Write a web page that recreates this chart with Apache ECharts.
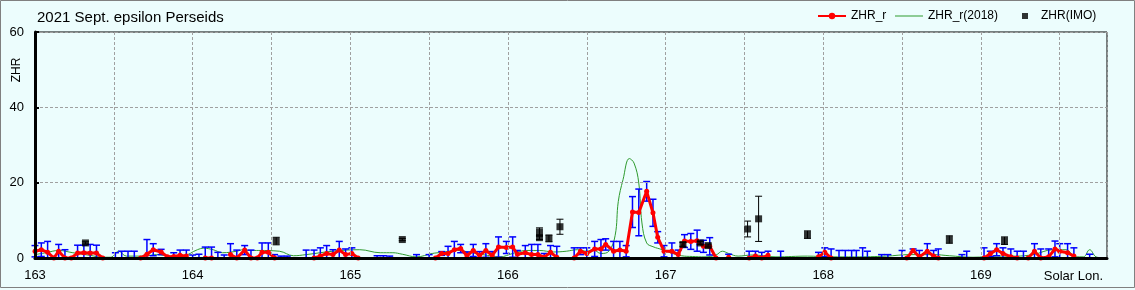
<!DOCTYPE html>
<html><head><meta charset="utf-8">
<script src="https://cdn.jsdelivr.net/npm/echarts@6.0.0/dist/echarts.min.js"></script>
<style>html,body{margin:0;padding:0;background:#ECFDFD}#c{width:1135px;height:290px}</style>
</head><body><div id="c"></div>
<script>
const titleText = '2021 Sept. epsilon Perseids';
const xTickStep = 0.5;

// ZHR_r (hourly), value and error half-width
const zhrLon = [163.00,163.04,163.08,163.12,163.15,163.19,163.23,163.27,163.31,163.35,163.39,163.43,163.47,163.51,163.55,163.59,163.63,163.67,163.71,163.75,163.80,163.84,163.88,163.92,163.96,164.00,164.04,164.08,164.12,164.16,164.20,164.24,164.28,164.33,164.37,164.41,164.44,164.48,164.52,164.56,164.60,164.64,164.68,164.72,164.77,164.81,164.85,164.89,164.93,164.97,165.01,165.05,165.09,165.13,165.17,165.21,165.25,165.29,165.33,165.38,165.42,165.46,165.50,165.54,165.58,165.62,165.66,165.70,165.74,165.78,165.82,165.86,165.90,165.94,165.99,166.03,166.06,166.11,166.15,166.19,166.23,166.27,166.31,166.35,166.38,166.42,166.46,166.50,166.55,166.59,166.62,166.67,166.71,166.75,166.79,166.83,166.88,166.92,166.95,166.99,167.04,167.08,167.12,167.16,167.20,167.24,167.28,167.32,167.36,167.40,167.44,167.48,167.53,167.57,167.61,167.65,167.69,167.73,167.77,167.97,168.01,168.05,168.10,168.14,168.18,168.21,168.25,168.28,168.33,168.37,168.41,168.46,168.50,168.53,168.57,168.61,168.66,168.70,168.73,168.77,168.82,168.88,168.91,168.95,168.98,169.02,169.06,169.10,169.14,169.19,169.23,169.27,169.30,169.34,169.38,169.43,169.47,169.50,169.55,169.59,169.63,169.69];
const zhrVal = [1.8,2.2,1.5,0,1.8,0,0,1.3,1.4,1.3,1.3,0,null,null,null,null,null,0,1.0,2.2,1.6,0.3,0.4,0.7,0.5,null,null,0,0,null,null,0.9,0,2.1,0,0,1.5,1.5,0,null,null,null,null,null,0,0.5,1.2,0.9,2.1,0.9,1.2,0,null,null,null,null,null,null,null,null,null,null,null,0,1.2,1.2,2.2,2.5,0.6,2.0,0.7,2.0,0.7,2.9,2.8,2.9,1.0,1.4,0.9,0.9,0.2,1.5,0.2,null,null,0,1.8,1.2,2.4,2.4,3.6,1.8,2.1,1.8,12.2,12.1,17.7,12.0,5.5,1.8,1.8,0.9,4.5,4.4,4.6,3.1,3.1,0,null,0.2,null,null,0,0.5,0,0.7,null,null,null,0.3,1.5,0,null,null,null,null,null,null,null,null,null,null,null,0,2.0,0.3,1.8,0.5,0,null,null,null,null,null,null,0,1.1,2.2,1.2,0.3,0,null,0,1.8,0,0.3,2.4,1.8,1.4,0.5,null,null];
const zhrErr = [1.5,1.8,2.9,0,1.8,2.2,0,2.1,2.0,2.3,2.1,0,0,1.4,1.8,1.8,1.8,0,3.9,1.6,0.7,0,1.0,1.4,1.6,0.8,1.0,2.9,2.9,1.5,0.8,2.9,2.1,1.2,2.1,0,2.5,2.5,0.9,0.5,0.5,0,0,2.1,2.1,2.2,2.1,1.3,2.3,1.5,1.5,0,0,0,0.6,0.6,0.5,0,0,0,0.9,0,0.9,0,0.5,1.9,2.2,1.1,1.0,1.6,1.0,1.8,1.0,2.7,1.6,2.7,1.0,1.9,2.7,2.7,1.0,1.8,2.9,0,0,2.7,0.9,1.5,2.0,2.5,1.5,2.6,2.3,1.5,4.1,6.2,2.6,3.6,1.5,1.5,2.2,1.2,1.7,2.1,2.8,1.6,2.3,0,0,0.8,0,0,1.8,1.3,1.5,1.1,0,1.8,0,1.2,1.2,2.4,2.0,2.0,2.0,2.0,2.7,1.8,0,0.9,0.9,0,2.0,0,0.4,1.7,2.0,1.5,2.4,0,0,0.9,1.8,0,0,2.7,0.7,1.6,1.5,2.1,1.8,1.8,0,2.0,2.4,2.1,2.1,2.0,2.4,2.2,0,1.0];

// ZHR_r(2018)
const g18Lon = [163.00,163.07,163.15,163.24,163.35,163.43,163.48,163.53,163.58,163.69,163.77,163.86,163.94,164.03,164.07,164.13,164.19,164.28,164.32,164.36,164.42,164.55,164.64,164.72,164.89,165.06,165.19,165.27,165.33,165.42,165.52,165.58,165.68,165.76,165.84,165.95,166.03,166.12,166.20,166.29,166.37,166.44,166.50,166.54,166.59,166.64,166.68,166.70,166.73,166.77,166.80,166.83,166.85,166.88,166.92,166.98,167.03,167.10,167.17,167.25,167.32,167.36,167.40,167.46,167.55,167.70,167.90,168.05,168.20,168.40,168.55,168.70,168.80,168.95,169.10,169.22,169.33,169.46,169.54,169.60,169.65,169.69,169.73,169.76];
const g18Val = [0.9,1.4,2.0,1.4,0.7,0.2,0.2,1.8,0.5,0.5,0.9,0.5,0.6,2.2,2.6,2.2,1.4,1.8,2.2,2.0,2.0,1.8,0.6,0.9,1.8,2.2,1.4,1.4,1.0,0.3,1.2,1.5,2.0,1.5,0.9,0.3,1.2,2.0,2.0,1.6,1.8,2.2,1.8,2.2,1.2,1.8,6.0,15.0,20.8,26.4,25.2,19.9,9.3,4.0,3.0,2.2,1.4,0.6,0.4,0.3,0.8,1.8,1.2,0.5,0.8,0.3,0.5,0.3,0.3,0.5,0.9,0.9,0.6,0.2,0.5,0.5,0.9,2.2,2.2,0.3,0.3,2.2,0.3,0.1];

// ZHR(IMO)
const imoLon = [163.32,164.53,165.33,166.20,166.20,166.26,166.33,167.11,167.22,167.27,167.52,167.59,167.90,168.80,169.15];
const imoVal = [4.0,4.5,4.9,6.9,5.4,5.2,8.3,3.6,4.0,3.3,7.7,10.4,6.2,4.9,4.6];
const imoErr = [0.3,1.0,0.3,1.1,0.5,0.9,2.0,0.5,0.4,0.4,2.1,6.0,1.0,1.0,1.0];

const FONT = 'Liberation Sans, Arial, sans-serif';

const redData = zhrLon.map((l, i) => [l, zhrVal[i]]);
const blueData = [];
zhrLon.forEach((l, i) => {
  const v = zhrVal[i] == null ? 0 : zhrVal[i];
  const e = zhrErr[i];
  if (e > 0) blueData.push([l, Math.max(0, v - e), v + e, v - e > 0 ? 1 : 0]);
});
const greenData = g18Lon.map((l, i) => [l, g18Val[i]]);
const imoData = imoLon.map((l, i) => [l, imoVal[i]]);
const imoBars = imoLon.map((l, i) => [l, Math.max(0, imoVal[i] - imoErr[i]), imoVal[i] + imoErr[i], 1]);

function errRender(color, lw, cap) {
  return function (params, api) {
    const x = api.value(0), lo = api.value(1), hi = api.value(2), lowCap = api.value(3);
    const pt = api.coord([x, hi]), pb = api.coord([x, lo]);
    const h = cap / 2;
    const st = { stroke: color, lineWidth: lw };
    const ch = [
      { type: 'line', shape: { x1: pt[0], y1: pt[1], x2: pb[0], y2: pb[1] }, style: st },
      { type: 'line', shape: { x1: pt[0] - h, y1: pt[1], x2: pt[0] + h, y2: pt[1] }, style: st }
    ];
    if (lowCap) ch.push({ type: 'line', shape: { x1: pb[0] - h, y1: pb[1], x2: pb[0] + h, y2: pb[1] }, style: st });
    return { type: 'group', children: ch };
  };
}

const chart = echarts.init(document.getElementById('c'), null, { renderer: 'canvas' });
chart.setOption({
  animation: false,
  backgroundColor: '#ECFDFD',
  textStyle: { fontFamily: FONT },
  title: { text: titleText, left: 37, top: 10, padding: 0,
    textStyle: { fontSize: 15, fontWeight: 'normal', color: '#000', fontFamily: FONT } },
  legend: [
    { data: ['ZHR_r'], left: 817, top: 10, padding: 0, itemWidth: 28, itemHeight: 8,
      textStyle: { fontSize: 12, color: '#000', fontFamily: FONT } },
    { data: [{ name: 'ZHR_r(2018)', icon: 'rect' }], left: 895, top: 10, padding: 0, itemWidth: 28, itemHeight: 1,
      textStyle: { fontSize: 12, color: '#000', fontFamily: FONT } },
    { data: [{ name: 'ZHR(IMO)', icon: 'rect' }], left: 1022, top: 10, padding: 0, itemWidth: 6, itemHeight: 6,
      itemGap: 0, textStyle: { fontSize: 12, color: '#000', fontFamily: FONT, padding: [0, 0, 0, 8] } }
  ],
  grid: { left: 35, right: 28, top: 32, bottom: 32, show: true, borderColor: '#000', borderWidth: 1,
    backgroundColor: 'transparent', containLabel: false },
  xAxis: {
    type: 'value', min: 163, max: 169.8, interval: xTickStep, z: 3,
    name: 'Solar Lon.', nameLocation: 'end', nameGap: -4,
    nameTextStyle: { fontSize: 13, color: '#000', align: 'right', verticalAlign: 'top', padding: [12, 0, 0, 0], fontFamily: FONT },
    axisLine: { show: true, onZero: false, lineStyle: { color: '#000', width: 3 } },
    axisTick: { show: false },
    axisLabel: { fontSize: 13, color: '#000', margin: 11, fontFamily: FONT,
      formatter: v => Math.abs(v - Math.round(v)) < 1e-6 ? String(Math.round(v)) : '' },
    splitLine: { show: true, lineStyle: { color: '#A0A0A0', type: [3, 2], width: 1 } }
  },
  yAxis: {
    type: 'value', min: 0, max: 60, interval: 20, z: 3,
    axisLine: { show: true, lineStyle: { color: '#000', width: 3 } },
    axisTick: { show: true, inside: true, length: 4, lineStyle: { color: '#000', width: 2 } },
    axisLabel: { fontSize: 13, color: '#000', margin: 11, fontFamily: FONT },
    splitLine: { show: true, lineStyle: { color: '#A0A0A0', type: [3, 2], width: 1 } }
  },
  graphic: [
    { type: 'text', x: 17, y: 70, rotation: Math.PI / 2,
      style: { text: 'ZHR', fontSize: 12, fill: '#000', align: 'center', verticalAlign: 'middle', fontFamily: FONT } },
    { type: 'rect', shape: { x: 0.5, y: 0.5, width: 1134, height: 287 }, silent: true,
      style: { fill: null, stroke: '#808080', lineWidth: 1 } }
  ],
  series: [
    { name: 'ZHR_r(2018)', type: 'line', data: greenData, smooth: 0.4, showSymbol: false, symbol: 'none',
      lineStyle: { color: '#2E9A2E', width: 1 }, itemStyle: { color: '#2E9A2E' }, z: 1 },
    { name: 'errBlue', type: 'custom', data: blueData, encode: { x: 0, y: [1, 2] },
      renderItem: errRender('#0000FF', 1.5, 7), z: 2 },
    { name: 'ZHR_r', type: 'line', data: redData, connectNulls: false, symbol: 'circle', symbolSize: 5,
      lineStyle: { color: '#FF0000', width: 3 }, itemStyle: { color: '#FF0000' }, z: 2 },
    { name: 'errIMO', type: 'custom', data: imoBars, encode: { x: 0, y: [1, 2] },
      renderItem: errRender('#000', 1, 7), z: 4 },
    { name: 'ZHR(IMO)', type: 'scatter', data: imoData, symbol: 'rect', symbolSize: 7,
      itemStyle: { color: '#000' }, z: 4 }
  ]
});
</script>
</body></html>
